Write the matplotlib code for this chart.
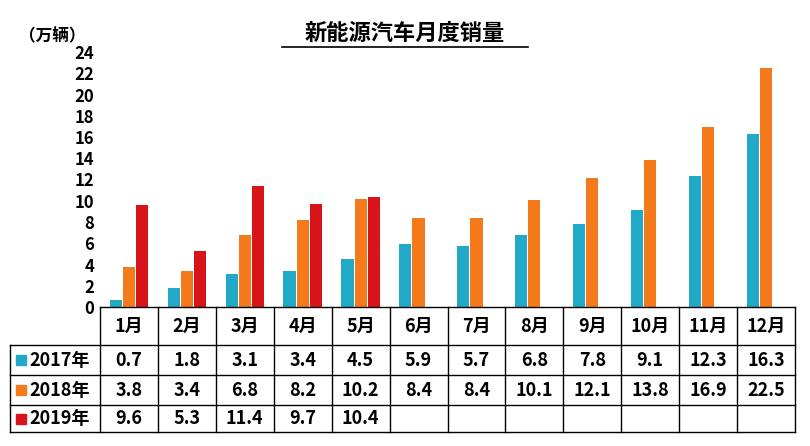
import matplotlib
matplotlib.use("Agg")
import matplotlib.pyplot as plt
from matplotlib import font_manager as fm
import numpy as np

cjk = [f for f in fm.fontManager.ttflist if 'CJK' in f.name]
pref = [f for f in cjk if 'SC' in f.name] or cjk
fams = []
if pref:
    fams.append(pref[0].name)
    bold = [f for f in cjk if f.name == pref[0].name and f.weight in ('bold', 700)]
plt.rcParams['font.family'] = fams + ['DejaVu Sans']

months = ["1月","2月","3月","4月","5月","6月","7月","8月","9月","10月","11月","12月"]
s2017 = [0.7,1.8,3.1,3.4,4.5,5.9,5.7,6.8,7.8,9.1,12.3,16.3]
s2018 = [3.8,3.4,6.8,8.2,10.2,8.4,8.4,10.1,12.1,13.8,16.9,22.5]
s2019 = [9.6,5.3,11.4,9.7,10.4]
series = [("2017年", s2017, "#22a9c8"), ("2018年", s2018, "#f57a1c"), ("2019年", s2019, "#d7141a")]

W, H = 810, 446
fig = plt.figure(figsize=(W/100, H/100), dpi=100)
L, R, T, B = 100, 795, 52, 307
ax = fig.add_axes([L/W, 1-B/H, (R-L)/W, (B-T)/H])
n = len(months)
bw = 0.21
for i, (name, vals, c) in enumerate(series):
    ax.bar(np.arange(len(vals)) + (i-1)*bw*1.08, vals, bw, color=c)
ax.set_xlim(-0.5, n-0.5)
ax.set_ylim(0, 24)
ax.set_yticks(range(0, 25, 2))
ax.tick_params(axis='y', labelsize=12, length=0, pad=4)
for lab in ax.get_yticklabels():
    lab.set_fontweight('bold')
ax.set_xticks([])
for s in ['top','right','left','bottom']:
    ax.spines[s].set_visible(False)

ov = fig.add_axes([0,0,1,1], facecolor='none')
ov.set_xlim(0, W); ov.set_ylim(H, 0); ov.axis('off')
ov.text(405, 33, "新能源汽车月度销量", ha='center', va='center', fontsize=16, fontweight='bold')
ov.plot([282, 528], [47, 47], color='black', lw=1.2)
ov.text(52, 36, "（万辆）", ha='center', va='center', fontsize=12, fontweight='bold')

cw = (R-L)/n
rows = [307, 345, 375, 405, 432]
lk = dict(color='black', lw=1)
ov.plot([L, R], [rows[0], rows[0]], **lk)
for y in rows[1:]:
    ov.plot([10, R], [y, y], **lk)
ov.plot([10, 10], [rows[1], rows[4]], **lk)
for i in range(n+1):
    ov.plot([L+i*cw]*2, [rows[0], rows[4]], **lk)
for i, m in enumerate(months):
    ov.text(L+(i+0.5)*cw, (rows[0]+rows[1])/2, m, ha='center', va='center', fontsize=13, fontweight='bold')
for r, (name, vals, c) in enumerate(series):
    yc = (rows[r+1]+rows[r+2])/2
    ov.add_patch(plt.Rectangle((16, yc-5), 10, 10, color=c))
    ov.text(60, yc, name, ha='center', va='center', fontsize=13, fontweight='bold')
    for i, v in enumerate(vals):
        ov.text(L+(i+0.5)*cw, yc, f"{v}", ha='center', va='center', fontsize=13, fontweight='bold')

fig.savefig("out.png", dpi=100)
